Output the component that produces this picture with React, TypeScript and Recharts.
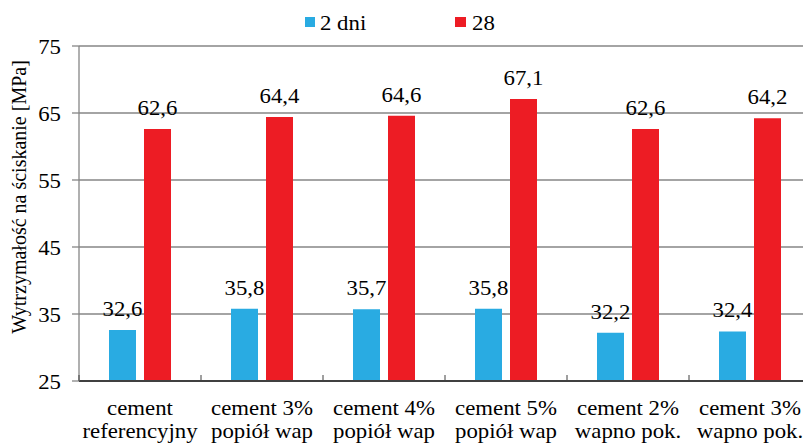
import React from 'react';
import { BarChart, Bar, XAxis, YAxis, CartesianGrid, Legend, LabelList } from 'recharts';

const kategorie = [
  'cement\nreferencyjny',
  'cement 3%\npopiół wap',
  'cement 4%\npopiół wap',
  'cement 5%\npopiół wap',
  'cement 2%\nwapno pok.',
  'cement 3%\nwapno pok.'
];
const dni2 = [32.6, 35.8, 35.7, 35.8, 32.2, 32.4];
const dni28 = [62.6, 64.4, 64.6, 67.1, 62.6, 64.2];
const yTicks = [25, 35, 45, 55, 65, 75];
const serie = [
  { key: 'd2', nazwa: '2 dni', kolor: '#29ABE2' },
  { key: 'd28', nazwa: '28', kolor: '#ED1C24' }
];

const data = kategorie.map((k, i) => ({ name: k, d2: dni2[i], d28: dni28[i] }));

const FONT = 'Liberation Serif';
const LEFT = 79;
const RIGHT = 811;
const BOTTOM = 381;
const BAND = (RIGHT - LEFT) / kategorie.length;
const LEGEND_H = 40;

// tekst lekko rozciągnięty w poziomie, jak w oryginale
const Txt = ({ x, y, anchor = 'middle', children }: any) => (
  <text
    transform={`translate(${x},${y}) scale(1.14,1)`}
    textAnchor={anchor}
    fontSize={20}
    fontFamily={FONT}
    fill="#000"
  >
    {children}
  </text>
);

const KategoriaTick = (props: any) => {
  const { x, payload, index } = props;
  const lines = String(payload.value).split('\n');
  return (
    <g>
      <line x1={x - BAND / 2} x2={x - BAND / 2} y1={BOTTOM - 6} y2={BOTTOM} stroke="#404040" />
      {index === kategorie.length - 1 && (
        <line x1={x + BAND / 2} x2={x + BAND / 2} y1={BOTTOM - 6} y2={BOTTOM} stroke="#404040" />
      )}
      {lines.map((l, i) => (
        <Txt key={i} x={x} y={BOTTOM + 34 + i * 23}>{l}</Txt>
      ))}
    </g>
  );
};

const WartoscTick = (props: any) => {
  const { y, payload } = props;
  return <Txt x={LEFT - 18} y={y + 8} anchor="end">{payload.value}</Txt>;
};

const Etykieta = (props: any) => {
  const { x, y, width, value } = props;
  return <Txt x={x + width / 2} y={y - 14}>{String(value).replace('.', ',')}</Txt>;
};

const Legenda = () => (
  <svg width={812} height={LEGEND_H} style={{ display: 'block' }}>
    <rect x={305} y={17} width={10} height={10} fill={serie[0].kolor} />
    <Txt x={320} y={30} anchor="start">{serie[0].nazwa}</Txt>
    <rect x={455} y={17} width={11} height={10} fill={serie[1].kolor} />
    <Txt x={472} y={30} anchor="start">{serie[1].nazwa}</Txt>
  </svg>
);

const App: React.FC = () => {
  return (
    <div style={{ position: 'absolute', left: 0, top: 0, width: 803, height: 447, overflow: 'hidden', background: '#fff' }}>
      <BarChart
        width={812}
        height={447}
        data={data}
        margin={{ top: 46 - LEGEND_H, right: 1, bottom: 0, left: 0 }}
        barSize={27}
        barGap={8}
      >
        <CartesianGrid vertical={false} stroke="#868686" strokeWidth={1.3} />
        <Legend
          verticalAlign="top"
          content={<Legenda />}
          wrapperStyle={{ position: 'absolute', top: 0, left: 0, width: 812, height: LEGEND_H }}
        />
        <XAxis
          dataKey="name"
          interval={0}
          height={66}
          axisLine={{ stroke: '#404040', strokeWidth: 2 }}
          tickLine={false}
          tick={<KategoriaTick />}
        />
        <YAxis
          domain={[25, 75]}
          ticks={yTicks}
          width={79}
          tickSize={7}
          axisLine={{ stroke: '#868686', strokeWidth: 1.3 }}
          tickLine={{ stroke: '#868686', strokeWidth: 1.3 }}
          tick={<WartoscTick />}
        />
        {serie.map((s) => (
          <Bar key={s.key} dataKey={s.key} name={s.nazwa} fill={s.kolor} isAnimationActive={false}>
            <LabelList dataKey={s.key} content={<Etykieta />} />
          </Bar>
        ))}
      </BarChart>
      <svg width={40} height={447} style={{ position: 'absolute', left: 0, top: 0 }}>
        <text
          transform="translate(26,197) rotate(-90)"
          textAnchor="middle"
          fontSize={20}
          fontFamily={FONT}
          fill="#000"
        >
          Wytrzymałość na ściskanie [MPa]
        </text>
      </svg>
    </div>
  );
};

export default App;
